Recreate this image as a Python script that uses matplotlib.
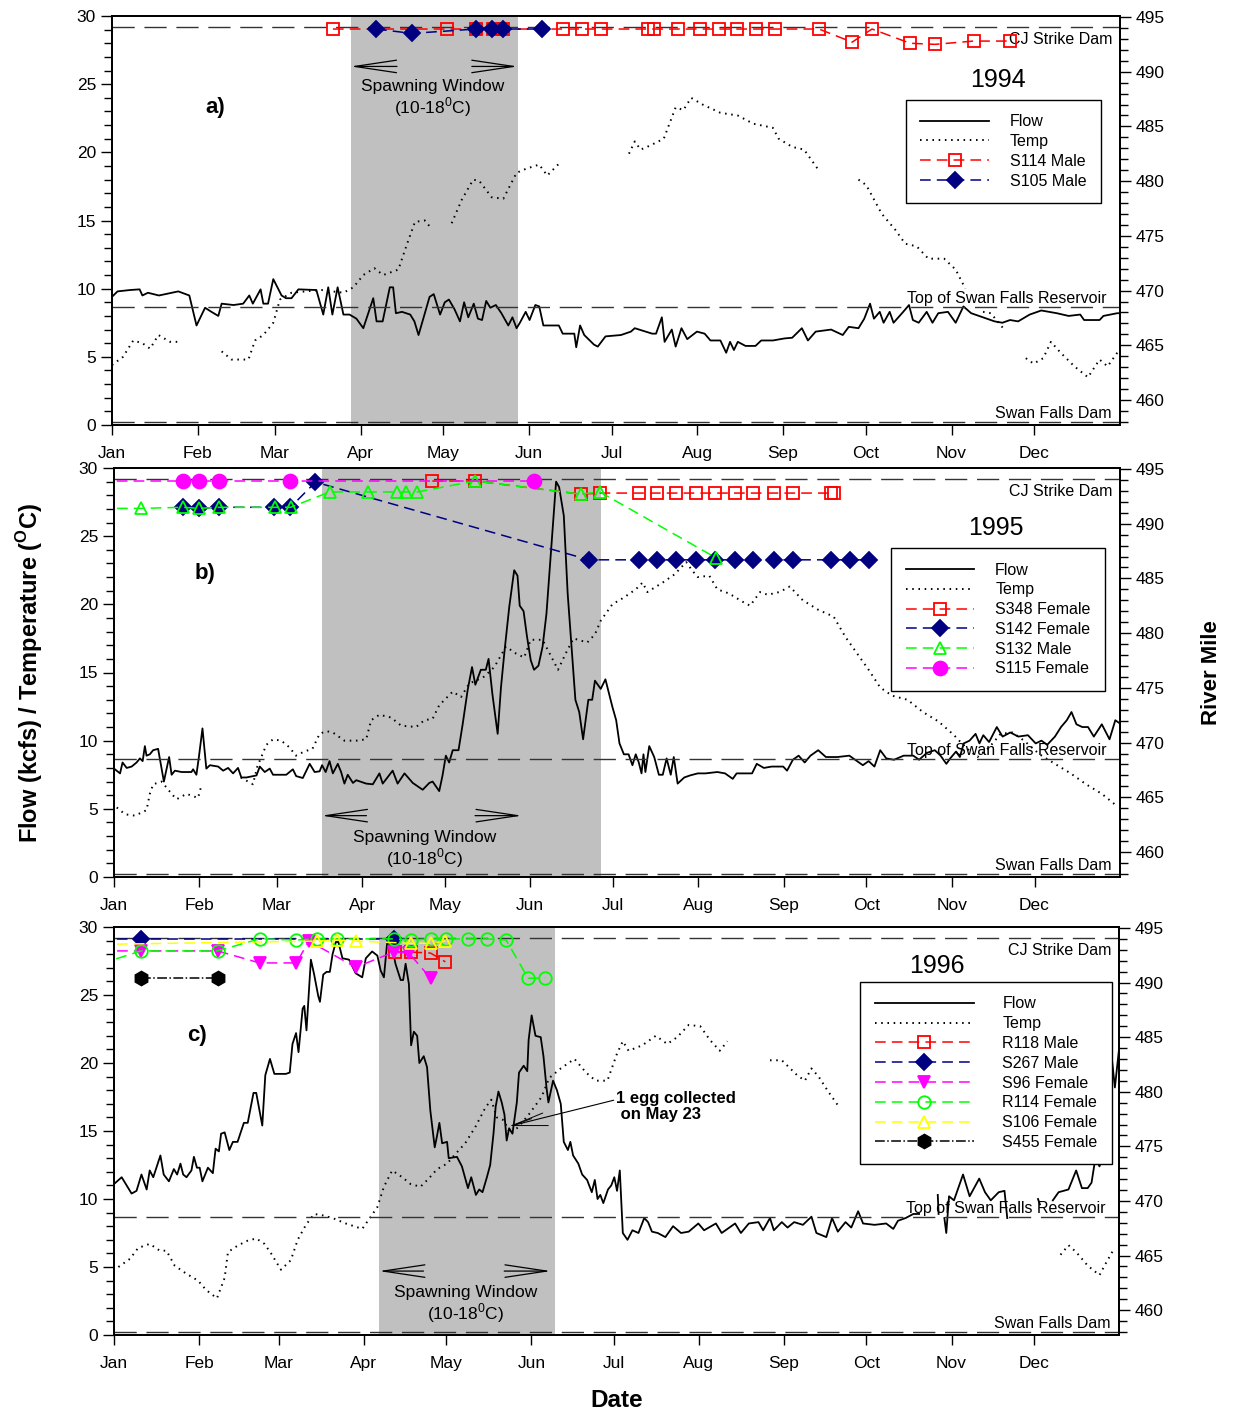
import numpy as np
import matplotlib
matplotlib.use('Agg')
import matplotlib.pyplot as plt
from matplotlib.ticker import MultipleLocator
from matplotlib.transforms import ScaledTranslation

plt.rcParams['font.family'] = ['Liberation Sans', 'DejaVu Sans']
plt.rcParams['mathtext.fontset'] = 'custom'
plt.rcParams['mathtext.rm'] = 'Liberation Sans'
plt.rcParams['mathtext.bf'] = 'Liberation Sans:bold'

nan = np.nan

months = ['Jan', 'Feb', 'Mar', 'Apr', 'May', 'Jun', 'Jul', 'Aug', 'Sep', 'Oct', 'Nov', 'Dec']
month_start = [0, 31, 59, 90, 120, 151, 181, 212, 243, 273, 304, 334]
month_start_leap = [0, 31, 60, 91, 121, 152, 182, 213, 244, 274, 305, 335]

# river mile landmarks
cj_strike_rm = 494.1
swan_res_top_rm = 468.5
swan_dam_rm = 458.0

# spawning window (day of year)
spawn_1994 = (86.4, 146.9)
spawn_1995 = (75.3, 176.7)
spawn_1996 = (96.5, 160.7)

# ---- 1994: [day, value] ----
flow_1994 = np.array([
    [0, 9.4], [2, 9.8], [6.5, 9.9], [10, 9.95], [11, 9.5], [13, 9.7], [17, 9.5], [24, 9.8], [28, 9.5],
    [30.6, 7.3], [33.7, 8.6], [36, 8.3], [38.5, 8.0], [39.7, 8.9], [44, 8.8], [47.5, 8.9], [49.7, 9.5],
    [51, 8.9], [53.8, 9.95], [54.8, 8.9], [56.5, 8.9], [58.4, 10.7], [61.4, 9.5], [63, 9.3], [65, 9.3],
    [67.5, 9.95], [74, 9.9], [76.5, 8.1], [78.3, 10.1], [79.8, 8.1], [81.7, 10.1], [83.8, 8.1], [86, 8.1],
    [88.5, 7.8], [91, 7.1], [94.6, 9.3], [95.8, 7.6], [98, 7.6], [100.6, 10.1], [101.8, 10.1], [102.8, 8.2],
    [105, 8.3], [108, 8.1], [109.5, 7.6], [111, 6.6], [113, 8.0], [115, 9.4], [116.5, 9.6], [118.8, 8.1],
    [120.5, 9.0], [122, 9.2], [124, 8.5], [126, 7.6], [127.5, 9.0], [129, 7.9], [131, 8.9], [132.5, 7.8],
    [134, 7.7], [135.5, 9.1], [137, 8.6], [139, 8.8], [141, 8.2], [143.5, 7.3], [145, 7.9], [146.5, 7.1],
    [147.7, 7.5], [149.8, 8.3], [151.2, 7.7], [153.3, 8.8], [154.7, 8.7], [156.2, 7.3], [161.8, 7.3],
    [163.2, 6.7], [167.4, 6.7], [168.1, 5.7], [169.5, 7.3], [171, 6.6], [174.5, 5.9], [175.9, 5.75],
    [178.7, 6.5], [184.3, 6.6], [187.9, 6.85], [189.3, 7.1], [195.6, 6.7], [197, 6.7], [199.1, 7.9],
    [200.1, 6.1], [202.7, 7.0], [204.1, 5.75], [206.2, 7.1], [208.3, 6.3], [211.8, 6.85], [214.6, 6.7],
    [216.7, 6.2], [220.3, 6.2], [222.4, 5.3], [223.8, 6.1], [225.2, 5.5], [226.6, 6.1], [229.4, 5.8],
    [233, 5.8], [235.1, 6.2], [239.3, 6.2], [243.5, 6.35], [246.3, 6.4], [249.8, 7.1], [252, 6.2],
    [254.8, 6.85], [260.4, 7.0], [264.6, 6.6], [266.8, 7.2], [270.3, 7.1], [272.4, 7.8], [274.5, 8.9],
    [275.9, 7.8], [278, 8.3], [279.4, 7.5], [281.6, 8.3], [283, 7.5], [286.5, 8.3], [288.6, 8.8],
    [290, 7.7], [292.1, 7.5], [295, 8.3], [297.1, 7.5], [299.2, 8.2], [302.7, 8.3], [305.5, 7.5],
    [308.3, 8.7], [311.1, 8.2], [315.4, 7.9], [319.6, 7.6], [322.4, 7.5], [325.2, 7.7], [328.1, 7.6],
    [332.3, 8.1], [336.5, 8.4], [342.1, 8.2], [346.4, 8.0], [350.6, 8.1], [352, 7.7], [357.6, 7.7],
    [359, 8.0], [364, 8.2], [365, 8.2]])
temp_1994 = np.array([
    [0, 4.4], [4, 5.0], [7.7, 6.2], [11, 6.0], [13.8, 5.6], [16.8, 6.6], [21, 6.1], [23.7, 6.1], [31, nan],
    [39.7, 5.4], [43.3, 4.8], [49.4, 4.8], [51.8, 6.2], [54.8, 6.6], [58.4, 7.5], [60.8, 9.2], [65, 9.7],
    [70, 9.8], [76, 9.9], [83.8, 9.7], [87.4, 10.1], [91, 11.0], [95, 11.5], [98.2, 11.0], [103.7, 11.4],
    [106.7, 13.2], [109.7, 14.9], [113.3, 15.0], [115.7, 14.4], [119, nan], [123, 14.8], [126.6, 16.5],
    [130.8, 18.0], [133, 17.9], [137.5, 16.7], [141.7, 16.6], [146.5, 18.5], [150, 18.8], [154.7, 19.1],
    [157.6, 18.3], [162.5, 19.3], [175, nan], [187.2, 19.9], [189.3, 20.8], [191.4, 20.2], [194.9, 20.5],
    [199.8, 21.0], [204.1, 23.3], [206.9, 23.1], [209.7, 24.0], [213.9, 23.5], [220.3, 22.9], [226.6, 22.7],
    [232.2, 22.1], [239.3, 21.8], [241.4, 21.0], [246.3, 20.4], [250.6, 20.2], [255.5, 18.8], [262, nan],
    [270.3, 18.0], [273.1, 17.6], [278.7, 15.5], [283.7, 14.3], [287.2, 13.3], [291.4, 13.1], [295.6, 12.2],
    [301.3, 12.2], [305.5, 11.4], [309, 10.0], [312, nan], [315.4, 8.3], [318.2, 8.2], [323.1, 7.0],
    [327, nan], [330.9, 4.9], [333.7, 4.5], [337.2, 4.9], [340, 6.1], [343.5, 5.3], [348.5, 4.3],
    [353.4, 3.5], [357.6, 4.8], [360.5, 4.3], [364, 5.3]])

s114_day = [80, 121.3, 131.8, 138, 141.6, 163.3, 170.2, 177, 194, 196.2, 205, 212.9, 219.8, 226.3,
            233.2, 240, 256, 268, 275.2, 289, 298, 312, 325]
s114_rm = [493.9, 493.9, 493.9, 493.9, 493.9, 493.9, 493.9, 493.9, 493.9, 493.9, 493.9, 493.9, 493.9,
           493.9, 493.9, 493.9, 493.9, 492.7, 493.9, 492.6, 492.5, 492.8, 492.8]
s105_day = [95.6, 108.6, 131.8, 137.6, 141.6, 155.7]
s105_rm = [493.9, 493.5, 493.9, 493.9, 493.9, 493.9]

# ---- 1995 ----
flow_1995 = np.array([
    [0, 7.95], [2.2, 7.6], [3.1, 8.4], [4.6, 8.0], [6.4, 8.1], [8.2, 8.4], [9.4, 8.7], [10.4, 8.5],
    [11.2, 9.6], [11.8, 8.9], [13, 9.0], [14.2, 9.3], [16, 9.4], [18.1, 7.0], [20, 8.8], [20.9, 7.5],
    [22.1, 7.8], [24.5, 7.7], [25.7, 7.7], [28.1, 7.7], [28.7, 7.9], [29.9, 7.5], [30.8, 8.8], [32.1, 10.9],
    [33.5, 7.95], [34.8, 8.2], [37.8, 8.1], [39.6, 7.8], [41.4, 8.0], [43.2, 7.6], [45, 8.0], [46.2, 7.3],
    [48, 7.3], [51.7, 7.45], [52.9, 8.1], [54.7, 7.7], [56.5, 7.95], [57.7, 7.5], [62.5, 7.5], [64.9, 7.9],
    [66.1, 7.4], [68.5, 7.26], [71, 8.3], [72.8, 7.7], [74.6, 7.75], [75.5, 8.2], [76.8, 7.7], [78.2, 8.5],
    [79.4, 7.6], [81.2, 8.3], [82.4, 7.7], [83.6, 6.85], [84.8, 7.5], [86.7, 6.9], [87.9, 7.1], [91.5, 6.85],
    [93.9, 6.8], [96.3, 7.6], [97.5, 6.85], [101.1, 7.8], [102.9, 6.85], [105.4, 7.6], [108.4, 6.9],
    [112, 6.4], [114.4, 6.9], [115.6, 7.0], [118, 6.3], [119.2, 7.45], [120.4, 8.9], [121.6, 8.4],
    [122.9, 9.3], [125, 9.3], [126.5, 11.2], [128.3, 13.7], [129.9, 15.4], [131.1, 14.1], [133.1, 15.2],
    [134.9, 15.2], [135.9, 16.0], [137.3, 13.4], [139.2, 10.5], [140.4, 13.9], [141.6, 16.4], [143.4, 19.8],
    [145.2, 22.5], [146.4, 22.1], [147.2, 19.9], [148.6, 19.5], [149.8, 17.7], [151.2, 15.9], [152.4, 15.2],
    [154, 15.5], [155.5, 16.9], [156.9, 19.3], [158.3, 23.2], [160.4, 29.0], [161.5, 28.6], [163.2, 26.5],
    [164.6, 20.8], [166, 16.9], [167.4, 13.0], [168.8, 12.1], [170.2, 10.1], [172.1, 13.0], [173.5, 13.0],
    [174.5, 14.4], [176.6, 13.8], [178.3, 14.5], [180.8, 12.5], [182.2, 11.5], [183.4, 9.8], [185, 9.0],
    [186.7, 9.0], [188.1, 8.2], [189.3, 9.0], [190.4, 8.4], [191.4, 7.6], [192.1, 9.0], [192.8, 7.7],
    [194.2, 9.6], [196, 8.8], [197.7, 7.5], [199.1, 7.5], [200.5, 8.7], [202, 7.5], [203.1, 8.8],
    [204.5, 6.85], [206.9, 7.3], [209, 7.45], [211.8, 7.6], [214.6, 7.6], [218.9, 7.7], [221.7, 7.6],
    [224.5, 7.2], [225.9, 7.6], [231.5, 7.6], [233.2, 8.3], [235.8, 8.0], [238.6, 8.1], [242.8, 8.1],
    [244.2, 7.8], [246.3, 8.6], [248.4, 8.9], [250.6, 8.4], [252.7, 8.9], [255.5, 9.3], [258.3, 8.8],
    [262.5, 8.8], [266.8, 8.9], [269.6, 8.5], [271.7, 8.2], [273.8, 8.5], [275.9, 8.1], [278, 9.3],
    [280.2, 8.7], [283, 8.6], [286.5, 8.9], [290, 8.9], [292.1, 8.6], [294.9, 9.1], [297.8, 9.3],
    [299.9, 8.9], [302, 8.3], [303.4, 8.7], [305.5, 9.2], [306.9, 8.8], [308.3, 9.8], [310.4, 10.0],
    [312.6, 10.5], [314, 9.8], [315.4, 10.4], [317.5, 9.9], [320.3, 11.0], [322.4, 10.3], [325.2, 10.6],
    [328.1, 10.3], [331.6, 10.4], [334.4, 9.8], [336.5, 10.0], [338.6, 9.7], [341.4, 10.3], [343.6, 11.0],
    [345.7, 11.5], [347.4, 12.1], [349.2, 11.2], [351.3, 11.0], [353.4, 11.0], [355.5, 10.3], [358.4, 11.2],
    [361.2, 10.1], [363.3, 11.5], [364.7, 11.3]])
temp_1995 = np.array([
    [1, 5.1], [4, 4.6], [7.6, 4.5], [11.8, 4.9], [13, 6.1], [14.2, 6.8], [17.3, 7.0], [20.9, 6.1], [22.7, 5.7],
    [26.3, 6.1], [30.5, 5.8], [31.7, 6.7], [38, nan], [46, 7.3], [50.4, 6.8], [52, 8.1], [55.3, 9.7],
    [57.7, 10.1], [60.7, 10.0], [63.7, 9.5], [66, 8.9], [69, 9.2], [72, 9.4], [74.6, 10.5], [77, 10.7],
    [79.4, 10.6], [83.6, 10.0], [87.9, 10.0], [91.5, 10.1], [93.3, 11.5], [96.3, 11.9], [100.5, 11.7],
    [104.2, 11.1], [109.6, 11.0], [112.6, 11.5], [115.6, 11.6], [118, 12.6], [122.9, 13.6], [125.9, 13.2],
    [128.9, 14.2], [131.3, 14.4], [134.3, 14.7], [138, 15.4], [142.2, 16.9], [145.8, 16.4], [148.8, 16.1],
    [151.2, 17.4], [155.5, 17.4], [158.3, 16.3], [161.1, 15.2], [163.9, 16.4], [166.7, 17.5], [171.7, 17.2],
    [174.5, 17.8], [176.6, 18.8], [180.8, 20.0], [185, 20.5], [189.3, 21.1], [191.8, 21.6], [193.5, 20.9],
    [199.1, 21.6], [203.4, 22.2], [207.6, 23.1], [209.7, 22.5], [211.8, 22.0], [216, 22.1], [218.9, 21.1],
    [223.1, 20.8], [228, 20.2], [230.8, 19.9], [234.4, 20.9], [237.2, 20.7], [241.4, 20.9], [245.2, 21.3],
    [249.9, 20.3], [255.5, 19.6], [261.1, 19.1], [265.4, 17.6], [269.6, 16.4], [273.8, 15.2], [278, 13.9],
    [282.3, 13.3], [287.9, 13.0], [293.5, 12.1], [299.2, 11.4], [304.8, 10.4], [309, 9.5], [313.3, 8.8],
    [317.5, 9.5], [321.7, 10.5], [326, 10.6], [330.2, 10.0], [335.8, 9.0], [341.4, 8.3], [347.1, 7.6],
    [352.7, 6.8], [358.4, 6.1], [363.3, 5.3]])

s348_day = [115.5, 131, 169.4, 176.3, 190.4, 197, 203.8, 211, 218, 225.2, 232, 239.3, 246.2, 260.3, 261.4]
s348_rm = [493.9, 493.9, 492.7, 492.8, 492.8, 492.8, 492.8, 492.8, 492.8, 492.8, 492.8, 492.8, 492.8,
           492.8, 492.8]
s142_day = [25, 30.8, 38, 58, 64, 73.1, 172.3, 190.4, 197, 203.8, 211, 217.9, 225.2, 232, 239.3, 246.2,
            260.3, 267.2, 274]
s142_rm = [491.5, 491.4, 491.5, 491.5, 491.5, 493.8, 486.7, 486.7, 486.7, 486.7, 486.7, 486.7, 486.7,
           486.7, 486.7, 486.7, 486.7, 486.7, 486.7]
s132_day = [-5, 9.8, 25, 30.8, 38, 58.3, 64.1, 78.2, 92.3, 102.8, 106, 110, 131, 169.4, 176.3, 218.3]
s132_rm = [491.4, 491.4, 491.5, 491.4, 491.5, 491.5, 491.5, 492.9, 492.9, 492.9, 492.9, 492.9, 493.9,
           492.7, 492.9, 486.9]
s115_day = [-5, 25, 30.8, 38, 63.7, 152.4]
s115_rm = [493.9, 493.9, 493.9, 493.9, 493.9, 493.9]

# ---- 1996 (leap year) ----
flow_1996 = np.array([
    [0, 11.1], [2.8, 11.6], [6.4, 10.4], [8.2, 10.6], [10, 11.8], [11.9, 10.7], [13, 12.1], [14.3, 11.6],
    [16.9, 13.2], [18.1, 11.8], [20, 11.3], [21.8, 12.2], [23, 11.8], [24.2, 12.6], [25.2, 11.8],
    [26.4, 11.6], [28.2, 12.1], [29.1, 13.1], [30.2, 12.3], [31.2, 12.3], [32.2, 11.3], [34.2, 12.3],
    [36, 11.9], [37, 13.7], [38.2, 13.5], [39, 14.8], [40.3, 14.9], [42, 13.6], [43.3, 14.2], [45, 14.2],
    [47.3, 15.6], [48.7, 15.6], [50.8, 17.8], [51.8, 17.8], [54, 15.4], [55.1, 19.1], [56.8, 20.3],
    [58.4, 19.2], [60.2, 19.2], [62.6, 19.2], [64, 19.3], [65, 21.4], [66.3, 22.2], [67.2, 20.8],
    [68.7, 24.0], [69.3, 24.2], [70.1, 22.4], [71.7, 27.6], [72.9, 26.5], [74.4, 24.9], [75, 24.5],
    [76.2, 26.5], [77.4, 26.7], [78.6, 26.7], [79.6, 28.0], [80.8, 28.9], [81.7, 28.9], [83.2, 27.7],
    [85.6, 27.6], [88, 26.6], [90.4, 26.3], [91.7, 27.7], [94, 28.2], [95.9, 27.9], [97.1, 26.8],
    [98.3, 26.3], [99.5, 28.9], [101.3, 28.5], [102.5, 27.3], [104.4, 26.1], [105.3, 26.1], [106.2, 27.3],
    [107.4, 25.8], [108.2, 21.3], [109.2, 22.3], [110.4, 22.0], [111.2, 20.0], [112.8, 20.5], [114, 19.7],
    [115.2, 16.5], [116.8, 13.8], [117.6, 14.6], [118.5, 15.6], [119.5, 14.1], [121.3, 14.2], [121.9, 13.0],
    [124.9, 13.1], [126.7, 12.4], [128.9, 10.8], [130.1, 11.6], [131.8, 10.3], [133, 10.7], [134.2, 10.5],
    [135.8, 11.6], [137, 12.5], [138.2, 14.8], [139, 16.8], [140, 17.9], [141.2, 17.1], [142.2, 16.2],
    [143, 14.3], [143.9, 15.2], [145.1, 14.8], [146.7, 17.1], [147.5, 19.3], [149.2, 19.8], [150.5, 19.4],
    [151, 21.7], [152.1, 23.5], [153.5, 22.0], [155.4, 21.9], [156.4, 20.5], [157.5, 18.2], [158.2, 17.1],
    [159.9, 18.7], [161.3, 18.0], [162.7, 17.0], [163.8, 14.2], [165.3, 13.6], [166.2, 14.2], [167.2, 13.2],
    [169.1, 12.6], [170.5, 11.8], [172.3, 11.4], [174, 10.5], [175.1, 11.4], [176.1, 10.0], [177.1, 10.3],
    [178.2, 9.7], [179.9, 10.7], [181.1, 11.0], [182.2, 11.6], [183.2, 10.6], [184.2, 12.1], [185.3, 7.5],
    [187, 7.0], [188.8, 7.7], [191, 7.5], [193.1, 8.6], [194.5, 8.3], [195.9, 7.6], [198, 7.5], [200.8, 7.2],
    [203.6, 8.0], [206.5, 7.5], [209.3, 7.6], [212.8, 8.2], [214.9, 7.7], [219.2, 8.2], [221.3, 7.5],
    [226.2, 8.2], [228.3, 7.5], [231.2, 8.2], [234.7, 8.3], [236.4, 7.7], [238.9, 8.6], [240.3, 7.7],
    [243.2, 8.3], [245.3, 7.9], [247.7, 8.3], [250.9, 8.1], [254, 8.7], [255.8, 7.5], [259.4, 7.2],
    [261.5, 8.6], [263.6, 7.6], [266.4, 8.3], [268.5, 7.9], [271, 9.1], [272.8, 8.2], [277, 8.1],
    [281.2, 8.2], [283.8, 7.8], [285.5, 8.4], [288.3, 8.6], [291.1, 8.9], [293.2, 8.9], [296, nan],
    [300, 10.3], [300.3, 8.9], [301, nan], [302.4, 8.6], [303.1, 7.5], [304.1, 10.2], [305.9, 9.9],
    [309.2, 11.8], [311.6, 10.2], [315.1, 11.5], [317.2, 10.5], [319.3, 9.9], [322.2, 10.5], [324.3, 10.6],
    [325.3, 8.6], [330, nan], [336.5, 10.0], [337.2, 9.6], [339, nan], [341.9, 9.9], [344, 10.5],
    [347.6, 10.7], [350.4, 12.1], [352.5, 10.8], [354.6, 10.8], [356, 11.2], [357.4, 13.0], [358.9, 12.4],
    [360.3, 13.3], [361.7, 16.0], [363.1, 20.9], [364.5, 18.2], [366, 21.0]])
temp_1996 = np.array([
    [1.6, 5.0], [5.8, 5.6], [8.8, 6.4], [13, 6.7], [16.7, 6.2], [19.1, 6.2], [22.1, 5.1], [26.4, 4.5],
    [30.6, 4.0], [33.6, 3.3], [37.5, 2.7], [40.3, 4.2], [41.5, 6.1], [44.5, 6.5], [48.1, 6.9], [51.8, 7.1],
    [54.8, 6.7], [57.2, 6.0], [60.8, 4.8], [64.4, 5.5], [66.9, 7.0], [69.9, 8.1], [72.9, 8.9], [75.9, 8.8],
    [79.6, 8.6], [84.4, 8.2], [90.4, 7.8], [93.5, 8.7], [95.9, 9.4], [98.3, 10.9], [101.3, 12.1], [105, 11.6],
    [108, 11.1], [111.6, 10.9], [114.6, 11.5], [117.7, 12.2], [121.3, 12.6], [124.3, 13.3], [127.9, 14.1],
    [131.6, 15.3], [135.2, 16.7], [137.4, 17.3], [139.4, 16.0], [141.9, 15.8], [144.3, 14.8], [147.3, 15.3],
    [151.4, 16.3], [155.7, 17.5], [158.5, 18.9], [162.7, 19.6], [167.7, 20.3], [171.9, 19.3], [175.4, 18.7],
    [179.7, 18.7], [183.2, 20.7], [185.3, 21.6], [187.4, 20.9], [192.4, 21.3], [197.3, 22.0], [201.5, 21.4],
    [205.1, 21.9], [209.3, 22.8], [213.5, 22.7], [217, 21.7], [220.6, 20.9], [223.4, 21.6], [230, nan],
    [238.9, 20.2], [243.2, 20.2], [248.8, 19.1], [251.6, 18.7], [254, 19.6], [256.6, 19.0], [260.1, 17.9],
    [263.6, 16.9], [300, nan], [344.7, 5.9], [347.6, 6.6], [350.4, 6.1], [354.6, 5.1], [358.9, 4.4],
    [361, 5.2], [363.8, 6.2]])

r118_day = [102.2, 108, 115.3, 120.7]
r118_rm = [492.8, 492.8, 492.7, 491.9]
s267_day = [-5, 10, 101.9]
s267_rm = [494.0, 494.0, 494.0]
s96_day = [-5, 9.8, 37.7, 53, 66.4, 71, 88, 102, 107.4, 115.3]
s96_rm = [492.9, 492.9, 492.9, 491.8, 491.8, 493.8, 491.4, 492.8, 492.7, 490.4]
r114_day = [-5, 9.8, 37.7, 53, 66.4, 74, 81.2, 101.9, 108, 115.3, 121, 129, 135.9, 142.8, 150.8, 157]
r114_rm = [491.7, 492.9, 492.9, 494.0, 493.9, 494.0, 494.0, 494.0, 493.9, 494.0, 494.0, 494.0, 494.0,
           493.9, 490.4, 490.4]
s106_day = [-5, 74, 81.2, 88, 108, 115.3, 120.7]
s106_rm = [493.5, 493.8, 493.9, 493.8, 493.6, 493.6, 493.8]
s455_day = [9.8, 37.7]
s455_rm = [490.4, 490.4]

egg_day = 145
egg_flow = 15.4

W, H = 1235, 1416
fig = plt.figure(figsize=(W / 100, H / 100), dpi=100)

RED, NAVY, GREEN, MAG, YEL = '#ff0000', '#000080', '#00ff00', '#ff00ff', '#ffff00'


def px_rect(x0, y0, x1, y1):
    return [x0 / W, 1 - y1 / H, (x1 - x0) / W, (y1 - y0) / H]


def fish(label, day, rm, color, marker, filled=False, ms=8, ls='--'):
    return dict(label=label, day=day, rm=rm, color=color, marker=marker,
                mfc=color if filled else 'none', ms=ms, ls=ls)


def draw_panel(rect, mstarts, xmax, flow, temp, spawn, fishes, tag, tag_xy, year, year_xy,
               leg_anchor, leg_hl, sw):
    ax = fig.add_axes(px_rect(*rect))
    ax2 = ax.twinx()
    ax.set_xlim(0, xmax)
    ax.set_ylim(0, 30)
    ax2.set_ylim(457.72, 495.09)

    ax.axvspan(spawn[0], spawn[1], color='#c0c0c0', lw=0, zorder=0)
    lf, = ax.plot(flow[:, 0], flow[:, 1], color='k', lw=1.3, label='Flow')
    lt, = ax.plot(temp[:, 0], temp[:, 1], color='k', lw=1.4, ls=(0, (0.8, 2.4)), label='Temp')

    for rm in (cj_strike_rm, swan_res_top_rm, swan_dam_rm):
        ax2.axhline(rm, color='#333333', lw=1.0, dashes=(16, 7), zorder=1)
    kw = dict(xycoords=('axes fraction', 'data'), textcoords='offset points', ha='right', fontsize=11.5)
    ax2.annotate('CJ Strike Dam', xy=(0.992, cj_strike_rm), xytext=(0, -4), va='top', **kw)
    ax2.annotate('Top of Swan Falls Reservoir', xy=(0.987, swan_res_top_rm), xytext=(0, 1), va='bottom', **kw)
    ax2.annotate('Swan Falls Dam', xy=(0.992, swan_dam_rm), xytext=(0, 1), va='bottom', **kw)

    handles = [lf, lt]
    for f in fishes:
        h, = ax2.plot(f['day'], f['rm'], color=f['color'], marker=f['marker'], mfc=f['mfc'],
                      mec=f['color'], ms=f['ms'], mew=1.3, lw=1.1, ls=f['ls'], label=f['label'],
                      zorder=3)
        if f['ls'] == '--':
            h.set_dashes((7, 4))
        handles.append(h)

    # spawning window note
    ax.text(sw['x'], sw['y1'], 'Spawning Window', ha='center', va='center', fontsize=12.5)
    ax.text(sw['x'], sw['y2'], '(10-18$^{0}$C)', ha='center', va='center', fontsize=12.5)
    ap = dict(arrowstyle='->,head_length=3,head_width=0.45', lw=0.9, color='k',
              shrinkA=0, shrinkB=0, mutation_scale=10)
    ax.annotate('', xy=(spawn[0], sw['ya']), xytext=(sw['left_tail'], sw['ya']), arrowprops=ap)
    ax.annotate('', xy=(sw['right_tip'], sw['ya']), xytext=(sw['right_tail'], sw['ya']), arrowprops=ap)

    ax.text(tag_xy[0], tag_xy[1], tag, transform=ax.transAxes, fontsize=16, fontweight='bold',
            ha='center', va='center')
    ax.text(year_xy[0], year_xy[1], year, transform=ax.transAxes, fontsize=18, ha='center', va='center')

    leg = ax2.legend(handles, [h.get_label() for h in handles], loc='upper right',
                     bbox_to_anchor=leg_anchor, borderaxespad=0, fontsize=11.5, handlelength=leg_hl[0],
                     handletextpad=leg_hl[1], labelspacing=0.3, borderpad=0.9, numpoints=1,
                     fancybox=False, framealpha=1, edgecolor='k')
    leg.get_frame().set_linewidth(1.0)
    leg.set_zorder(10)

    ax.set_xticks(mstarts)
    ax.set_xticklabels(months, fontsize=12.5)
    shift = ScaledTranslation(-5 / 100, 0, fig.dpi_scale_trans)
    for lab in ax.get_xticklabels():
        lab.set_transform(lab.get_transform() + shift)
    ax.tick_params(axis='x', direction='out', length=7, width=1, pad=8)
    ax.set_yticks(range(0, 31, 5))
    ax.yaxis.set_minor_locator(MultipleLocator(1))
    ax.tick_params(axis='y', which='major', direction='out', length=8, width=1, labelsize=12.5)
    ax.tick_params(axis='y', which='minor', direction='out', length=6, width=1)
    ax2.set_yticks(range(460, 496, 5))
    ax2.yaxis.set_minor_locator(MultipleLocator(1))
    ax2.tick_params(axis='y', which='major', direction='out', length=8, width=1, labelsize=12.5)
    ax2.tick_params(axis='y', which='minor', direction='out', length=6, width=1)
    for a in (ax, ax2):
        for s in a.spines.values():
            s.set_linewidth(1.3)
    return ax, ax2


fish_1994 = [fish('S114 Male', s114_day, s114_rm, RED, 's', ms=8),
             fish('S105 Male', s105_day, s105_rm, NAVY, 'D', filled=True, ms=8)]
fish_1995 = [fish('S348 Female', s348_day, s348_rm, RED, 's', ms=8),
             fish('S142 Female', s142_day, s142_rm, NAVY, 'D', filled=True, ms=8),
             fish('S132 Male', s132_day, s132_rm, GREEN, '^', ms=9),
             fish('S115 Female', s115_day, s115_rm, MAG, 'o', filled=True, ms=10)]
fish_1996 = [fish('R118 Male', r118_day, r118_rm, RED, 's', ms=8),
             fish('S267 Male', s267_day, s267_rm, NAVY, 'D', filled=True, ms=8),
             fish('S96 Female', s96_day, s96_rm, MAG, 'v', filled=True, ms=9),
             fish('R114 Female', r114_day, r114_rm, GREEN, 'o', ms=9),
             fish('S106 Female', s106_day, s106_rm, YEL, '^', ms=9),
             fish('S455 Female', s455_day, s455_rm, 'k', 'h', filled=True, ms=10, ls='-.')]

draw_panel((112, 16, 1120, 425), month_start, 365, flow_1994, temp_1994, spawn_1994, fish_1994,
           'a)', (0.102, 0.777), '1994', (0.879, 0.843), (0.981, 0.795), (4.3, 1.3),
           dict(x=116.2, y1=24.8, y2=23.3, ya=26.3, left_tail=103.2, right_tail=130.3, right_tip=146.9))
draw_panel((114, 468, 1120, 877), month_start, 365, flow_1995, temp_1995, spawn_1995, fish_1995,
           'b)', (0.09, 0.743), '1995', (0.877, 0.853), (0.985, 0.804), (4.3, 1.3),
           dict(x=112.6, y1=2.9, y2=1.4, ya=4.5, left_tail=91.6, right_tail=131, right_tip=148))
ax_c, ax2_c = draw_panel((114, 927, 1119, 1335), month_start_leap, 366, flow_1996, temp_1996, spawn_1996,
                         fish_1996, 'c)', (0.083, 0.735), '1996', (0.819, 0.904), (0.993, 0.865), (6.2, 1.8),
                         dict(x=128, y1=3.1, y2=1.6, ya=4.7, left_tail=112.7, right_tail=142.1,
                              right_tip=159.1))

ax_c.annotate('1 egg collected\n on May 23', xy=(egg_day, egg_flow), xytext=(183, 16.8),
              fontsize=12, fontweight='bold', ha='left', va='center', linespacing=1.15,
              arrowprops=dict(arrowstyle='-', lw=0.8, color='k', shrinkA=0, shrinkB=0, relpos=(0, 0.72)))
for dx, dy in ((22, 9), (26, 0), (14, 5)):
    ax_c.annotate('', xy=(egg_day, egg_flow), xytext=(dx, dy), textcoords='offset points',
                  arrowprops=dict(arrowstyle='-', lw=0.7, color='k', shrinkA=0, shrinkB=0))

fig.text(0.024, 0.525, 'Flow (kcfs) / Temperature ($^{\\mathbf{O}}$C)', rotation=90, fontsize=17,
         fontweight='bold', ha='center', va='center')
fig.text(0.981, 0.525, 'River Mile', rotation=90, fontsize=16, fontweight='bold', ha='center', va='center')
fig.text(0.499, 0.011, 'Date', fontsize=17.5, fontweight='bold', ha='center', va='center')

fig.savefig('out.png', dpi=100)
